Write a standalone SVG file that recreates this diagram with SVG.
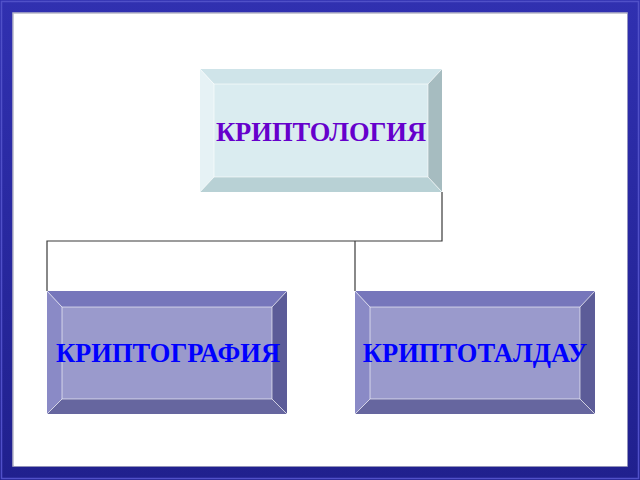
<svg xmlns="http://www.w3.org/2000/svg" width="640" height="480" viewBox="0 0 640 480">
<defs>
<style>
.lbl{font-family:"Liberation Serif","Times New Roman",serif;font-weight:bold;text-anchor:middle;font-size:26.5px}
.conn{fill:none;stroke:#3a3a3a;stroke-width:1.2}
.edge{stroke:#ffffff;stroke-width:1;stroke-opacity:0.6;fill:none}
</style>
<linearGradient id="frameG" x1="0" y1="0" x2="0" y2="1">
<stop offset="0" stop-color="#3030b0"/>
<stop offset="1" stop-color="#20208e"/>
</linearGradient>
</defs>
<rect x="0" y="0" width="640" height="480" fill="url(#frameG)"/>
<rect x="1.5" y="1.5" width="637" height="477" fill="none" stroke="#5050c8" stroke-width="1.5"/>
<rect x="13" y="13" width="614" height="453" fill="#ffffff" stroke="#b8b8c8" stroke-width="1.5"/>
<rect x="14" y="14" width="613" height="452" fill="#ffffff"/>

<g id="connectors">
<polyline class="conn" points="442,192 442,241 47,241 47,291"/>
<line class="conn" x1="355" y1="241" x2="355" y2="291"/>
</g>

<g id="node-kriptologiya">
<polygon points="200,69 442,69 428,84 214,84" fill="#cfe4e9"/>
<polygon points="200,69 214,84 214,177 200,192" fill="#e6f2f5"/>
<polygon points="442,69 442,192 428,177 428,84" fill="#a6bcc0"/>
<polygon points="200,192 214,177 428,177 442,192" fill="#b8d1d5"/>
<rect x="214" y="84" width="214" height="93" fill="#daecf0"/>
<path class="edge" d="M200,69 L214,84 M442,69 L428,84 M200,192 L214,177 M442,192 L428,177 M214,84 H428 V177 H214 Z"/>
<text class="lbl" x="321" y="141" fill="#6600cc">КРИПТОЛОГИЯ</text>
</g>

<g id="node-kriptografiya">
<polygon points="47,291 287,291 272,307 62,307" fill="#7676bb"/>
<polygon points="47,291 62,307 62,399 47,414" fill="#8a8ac6"/>
<polygon points="287,291 287,414 272,399 272,307" fill="#5c5c98"/>
<polygon points="47,414 62,399 272,399 287,414" fill="#66669f"/>
<rect x="62" y="307" width="210" height="92" fill="#9a9acc"/>
<path class="edge" d="M47,291 L62,307 M287,291 L272,307 M47,414 L62,399 M287,414 L272,399 M62,307 H272 V399 H62 Z"/>
<text class="lbl" x="168" y="362" fill="#0000ff">КРИПТОГРАФИЯ</text>
</g>

<g id="node-kriptotaldau">
<polygon points="355,291 595,291 580,307 370,307" fill="#7676bb"/>
<polygon points="355,291 370,307 370,399 355,414" fill="#8a8ac6"/>
<polygon points="595,291 595,414 580,399 580,307" fill="#5c5c98"/>
<polygon points="355,414 370,399 580,399 595,414" fill="#66669f"/>
<rect x="370" y="307" width="210" height="92" fill="#9a9acc"/>
<path class="edge" d="M355,291 L370,307 M595,291 L580,307 M355,414 L370,399 M595,414 L580,399 M370,307 H580 V399 H370 Z"/>
<text class="lbl" x="475" y="362" fill="#0000ff">КРИПТОТАЛДАУ</text>
</g>
</svg>
